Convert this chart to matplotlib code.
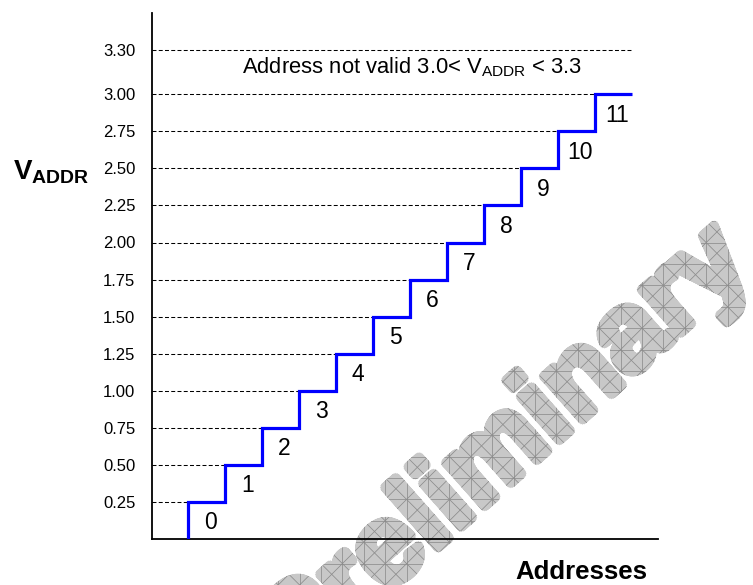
#!/usr/bin/env python3
"""
Address ladder chart - V_ADDR level per address, with PRELIMINARY watermark
"""

import matplotlib
matplotlib.use("Agg")
import matplotlib.pyplot as plt
import numpy as np
from matplotlib.textpath import TextPath
from matplotlib.patches import PathPatch
from matplotlib.path import Path
from matplotlib.collections import LineCollection
from matplotlib.font_manager import FontProperties
from matplotlib.transforms import Affine2D, IdentityTransform

# data
addresses = [0, 1, 2, 3, 4, 5, 6, 7, 8, 9, 10, 11]
v_levels = [0.25, 0.50, 0.75, 1.00, 1.25, 1.50, 1.75, 2.00, 2.25, 2.50, 2.75, 3.00]
v_invalid = 3.30
tick_values = [0.25, 0.50, 0.75, 1.00, 1.25, 1.50, 1.75, 2.00, 2.25, 2.50, 2.75, 3.00, 3.30]
tick_labels = ["0.25", "0.50", "0.75", "1.00", "1.25", "1.50", "1.75", "2.00",
               "2.25", "2.50", "2.75", "3.00", "3.30"]

plt.rcParams['font.family'] = ['Liberation Sans', 'DejaVu Sans']
plt.rcParams['mathtext.fontset'] = 'custom'
plt.rcParams['mathtext.rm'] = 'Liberation Sans'
plt.rcParams['mathtext.bf'] = 'Liberation Sans:bold'

W, H, DPI = 753, 585, 100
fig = plt.figure(figsize=(W / DPI, H / DPI), dpi=DPI)
fig.patch.set_facecolor('white')

# axes box in pixels: left 152, right 658, bottom 539, top 13
ax = fig.add_axes([152 / W, (H - 539) / H, (658 - 152) / W, (539 - 13) / H])
ax.patch.set_visible(False)
ax.set_zorder(1)

x0 = (152 - 188) / 37.0
ax.set_xlim(x0, (658 - 188) / 37.0)
ax.set_ylim(0, (539 - 13) / 148.25)

# dashed level lines from the axis to where each step starts
dash = (0, (3.8, 2.2))
for a, v in zip(addresses, v_levels):
    ax.hlines(v, x0, a, colors='black', linestyles=dash, linewidth=0.75, zorder=1)
ax.hlines(v_invalid, x0, addresses[-1] + 1, colors='black', linestyles=dash,
          linewidth=0.75, zorder=1)

# staircase
xs = [addresses[0]]
ys = [0.0]
for a, v in zip(addresses, v_levels):
    xs += [a, a + 1]
    ys += [v, v]
ax.plot(xs, ys, color='#0000ff', linewidth=2.3, solid_joinstyle='miter',
        solid_capstyle='butt', zorder=3)

# address numbers under each step
for a, v in zip(addresses, v_levels):
    ax.text(a + 0.6, v - 0.14, str(a), fontsize=16.5, ha='center', va='center', zorder=4)

ax.text(1.46, 3.185, r"Address not valid 3.0< V$_{\mathrm{ADDR}}$ < 3.3",
        fontsize=15.8, ha='left', va='center')

ax.set_xticks([])
ax.set_yticks(tick_values)
ax.set_yticklabels(tick_labels, fontsize=12)
ax.tick_params(axis='y', length=0, pad=12)
for s in ['top', 'right']:
    ax.spines[s].set_visible(False)
for s in ['left', 'bottom']:
    ax.spines[s].set_linewidth(1.3)

fig.text(13 / W, 1 - 172 / H, r"$\mathbf{V}_{\mathbf{ADDR}}$", fontsize=20,
         ha='left', va='center')
fig.text(647 / W, 1 - 572 / H, "Addresses", fontsize=18.5, fontweight='bold',
         ha='right', va='center')

# watermark: bold text path, fattened by stacking shifted copies (pixel coords)
tp = TextPath((0, 0), "Preliminary", size=112,
              prop=FontProperties(family='Liberation Sans', weight='bold'))
offsets = [(0.0, 0.0)]
for r in (2.2, 4.4):
    for ang in np.linspace(0, 2 * np.pi, 16, endpoint=False):
        offsets.append((r * np.cos(ang), r * np.sin(ang)))
pieces = [Affine2D().rotate_deg(41.5).translate(297 + dx, -88 + dy).transform_path(tp)
          for dx, dy in offsets]
wm_path = Path.make_compound_path(*pieces)
wm = PathPatch(wm_path, transform=IdentityTransform(), facecolor='#c8c8c8',
               linewidth=0, zorder=-2)
fig.add_artist(wm)

# square grid with an X in every cell, kept inside the watermark
cell = 21.4
segs = []
for k in np.arange(-70, 70) * cell:
    segs.append([(k, -10), (k, H + 10)])
    segs.append([(-10, k), (W + 10, k)])
    segs.append([(k - 800, -800), (k + 800, 800)])
    segs.append([(k - 800, 800), (k + 800, -800)])
lc = LineCollection(segs, colors='#8c8c8c', linewidths=0.55,
                    transform=IdentityTransform(), zorder=-1)
fig.add_artist(lc)
lc.set_clip_path(wm)

fig.savefig('out.png', dpi=DPI, facecolor='white')
